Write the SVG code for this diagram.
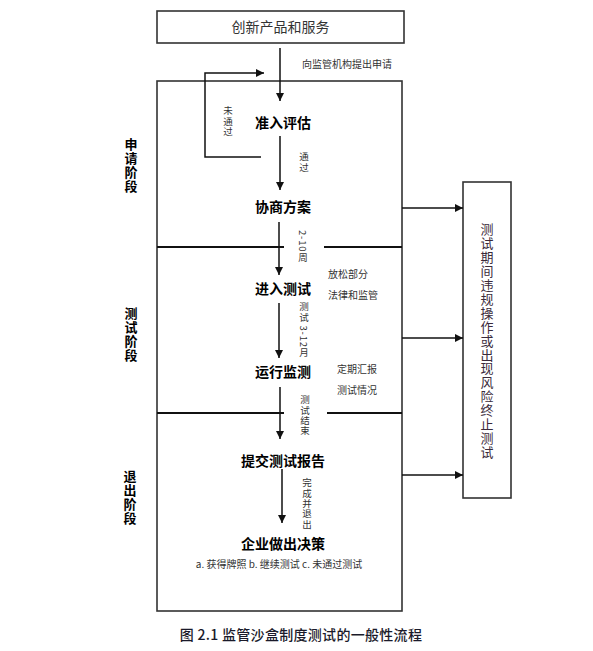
<svg xmlns="http://www.w3.org/2000/svg" width="593" height="651" viewBox="0 0 593 651">
<defs>
<marker id="ah" viewBox="0 0 10 10" refX="10" refY="5" markerWidth="8" markerHeight="8" markerUnits="userSpaceOnUse" orient="auto">
<path d="M0,0 L10,5 L0,10 z" fill="#111"/>
</marker>
</defs>
<style>
.box{fill:#fff;stroke:#333;stroke-width:1.6}
.ln{fill:none;stroke:#111;stroke-width:1.5}
.dv{fill:none;stroke:#111;stroke-width:2}
.t{font-family:"Noto Sans CJK SC","Liberation Sans",sans-serif;fill:#333}
.b{font-family:"Noto Sans CJK SC","Liberation Sans",sans-serif;fill:#000;font-weight:bold;font-size:14px;text-anchor:middle}
.s{font-size:10px}
.v{writing-mode:vertical-rl;font-size:9.5px;letter-spacing:0.8px}
.side{font-family:"Noto Sans CJK SC","Liberation Sans",sans-serif;fill:#000;font-weight:bold;font-size:13px;writing-mode:vertical-rl;letter-spacing:1px}
</style>
<rect width="593" height="651" fill="#fff"/>
<g id="frame"><rect class="box" x="157" y="81" width="245" height="530"/></g>
<g id="top"><rect class="box" x="157" y="11" width="247" height="32"/><text class="t" x="280.5" y="32" font-size="14" text-anchor="middle">创新产品和服务</text></g>
<g id="right"><rect class="box" x="463" y="182" width="48" height="316"/><text class="t" x="487" y="223" style="writing-mode:vertical-rl;font-size:13px;letter-spacing:0.9px;fill:#3a2a3a">测试期间违规操作或出现风险终止测试</text></g>
<g id="connectors">
<line class="ln" x1="280" y1="48" x2="280" y2="101" marker-end="url(#ah)"/>
<polyline class="ln" points="261,157 205,157 205,73 264,73" marker-end="url(#ah)"/>
<line class="ln" x1="280" y1="136" x2="280" y2="190" marker-end="url(#ah)"/>
<line class="ln" x1="279" y1="222" x2="279" y2="275" marker-end="url(#ah)"/>
<line class="ln" x1="279" y1="303" x2="279" y2="358" marker-end="url(#ah)"/>
<line class="ln" x1="280" y1="387" x2="280" y2="439" marker-end="url(#ah)"/>
<line class="ln" x1="282" y1="469" x2="282" y2="523" marker-end="url(#ah)"/>
<line class="ln" x1="402" y1="208" x2="463" y2="208" marker-end="url(#ah)"/>
<line class="ln" x1="402" y1="338" x2="463" y2="338" marker-end="url(#ah)"/>
<line class="ln" x1="402" y1="475" x2="463" y2="475" marker-end="url(#ah)"/>
<line class="dv" x1="157" y1="247" x2="284" y2="247"/>
<line class="dv" x1="324" y1="247" x2="402" y2="247"/>
<line class="dv" x1="157" y1="413" x2="284" y2="413"/>
<line class="dv" x1="327" y1="413" x2="402" y2="413"/>
</g>
<g id="labels">
<text class="t s" x="302" y="68">向监管机构提出申请</text>
<text class="t v" x="228" y="106">未通过</text>
<text class="t v" x="304" y="152">通过</text>
<text class="t v" x="303" y="230">2-10周</text>
<text class="t s" x="328" y="278">放松部分</text>
<text class="t s" x="328" y="299">法律和监管</text>
<text class="t v" x="304" y="302">测试 3-12月</text>
<text class="t s" x="337" y="373">定期汇报</text>
<text class="t s" x="337" y="394">测试情况</text>
<text class="t v" x="305" y="395">测试结束</text>
<text class="t v" x="307" y="478">完成并退出</text>
<text class="t s" x="279" y="568" text-anchor="middle">a. 获得牌照 b. 继续测试 c. 未通过测试</text>
</g>
<g id="n1"><text class="b" x="283" y="128">准入评估</text></g>
<g id="n2"><text class="b" x="283" y="212">协商方案</text></g>
<g id="n3"><text class="b" x="283" y="294">进入测试</text></g>
<g id="n4"><text class="b" x="283" y="377">运行监测</text></g>
<g id="n5"><text class="b" x="283" y="466">提交测试报告</text></g>
<g id="n6"><text class="b" x="283" y="549">企业做出决策</text></g>
<g id="stages">
<text class="side" x="131" y="138">申请阶段</text>
<text class="side" x="131" y="307">测试阶段</text>
<text class="side" x="130" y="470">退出阶段</text>
</g>
<text class="t" x="301" y="640" font-size="14" text-anchor="middle" style="fill:#1a1a2a;letter-spacing:0.3px;font-weight:500">图 2.1  监管沙盒制度测试的一般性流程</text>
</svg>
